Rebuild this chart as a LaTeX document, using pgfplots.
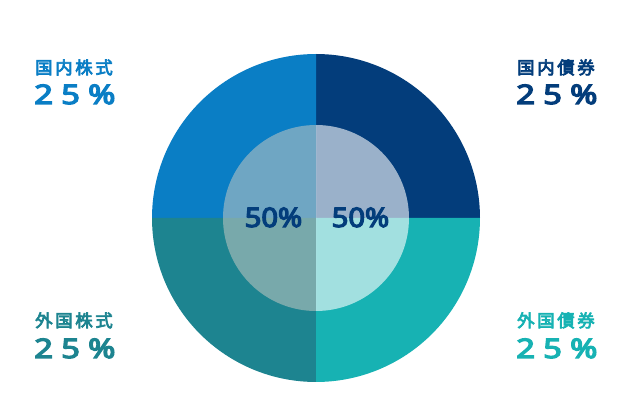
\documentclass[border=0pt]{standalone}
\usepackage{fontspec}
\usepackage{pgfplots}
\pgfplotsset{compat=1.18}
\setmainfont{Noto Sans CJK JP}
\newfontfamily\jp[LetterSpace=15,FakeBold=4]{Noto Sans CJK JP}
\newfontfamily\num[LetterSpace=25,FakeBold=4.5]{Noto Sans}
\newfontfamily\numc[FakeBold=4.5]{Noto Sans}
\newcommand\pct[1]{\scalebox{1.22}[1]{\num\fontsize{27}{29}\selectfont #1}}
\newcommand\pctc[1]{\scalebox{1.08}[1]{\numc\fontsize{27}{29}\selectfont #1}}
\definecolor{cNavy}{HTML}{033D7B}
\definecolor{cBlue}{HTML}{0A7EC5}
\definecolor{cTealD}{HTML}{1D8490}
\definecolor{cTeal}{HTML}{17B2B3}
\definecolor{ovL}{RGB}{202,202,195}
\begin{document}
\begin{tikzpicture}
\useasboundingbox (0,0) rectangle (630bp,405bp);
\begin{axis}[x=1bp,y=1bp,xmin=0,xmax=630,ymin=0,ymax=405,
  hide axis,clip=false,anchor=south west,at={(0,0)}]
% outer ring: shares (percent), counter-clockwise from 3 o'clock
\xdef\cum{0}
\foreach \v/\c in {25/cNavy,25/cBlue,25/cTealD,25/cTeal}{
  \pgfmathsetmacro\a{\cum*3.6}
  \pgfmathsetmacro\b{(\cum+\v)*3.6}
  \edef\temp{\noexpand\fill[\c] (axis cs:316,187) -- ++(\a:164bp) arc[start angle=\a,end angle=\b,radius=164bp] -- cycle;}
  \temp
  \pgfmathsetmacro\n{\cum+\v}\xdef\cum{\n}
}
% inner: 50% stocks (left) / 50% bonds (right)
\xdef\cum{25}
\foreach \v/\c/\o in {50/ovL/0.53,50/white/0.6}{
  \pgfmathsetmacro\a{\cum*3.6}
  \pgfmathsetmacro\b{(\cum+\v)*3.6}
  \edef\temp{\noexpand\fill[\c,opacity=\o] (axis cs:316,187) -- ++(\a:93bp) arc[start angle=\a,end angle=\b,radius=93bp] -- cycle;}
  \temp
  \pgfmathsetmacro\n{\cum+\v}\xdef\cum{\n}
}
% labels
\node[anchor=base west,inner sep=0,text=cBlue] at (axis cs:35,331) {\jp\fontsize{17.5}{20}\selectfont 国内株式};
\node[anchor=base west,inner sep=0,text=cBlue] at (axis cs:34,301) {\pct{25\%}};
\node[anchor=base west,inner sep=0,text=cNavy] at (axis cs:517,331) {\jp\fontsize{17.5}{20}\selectfont 国内債券};
\node[anchor=base west,inner sep=0,text=cNavy] at (axis cs:516,301) {\pct{25\%}};
\node[anchor=base west,inner sep=0,text=cTealD] at (axis cs:35,78) {\jp\fontsize{17.5}{20}\selectfont 外国株式};
\node[anchor=base west,inner sep=0,text=cTealD] at (axis cs:34,47) {\pct{25\%}};
\node[anchor=base west,inner sep=0,text=cTeal] at (axis cs:517,78) {\jp\fontsize{17.5}{20}\selectfont 外国債券};
\node[anchor=base west,inner sep=0,text=cTeal] at (axis cs:516,47) {\pct{25\%}};
\node[anchor=base,inner sep=0,text=cNavy] at (axis cs:273.5,178) {\pctc{50\%}};
\node[anchor=base,inner sep=0,text=cNavy] at (axis cs:360.5,178) {\pctc{50\%}};
\end{axis}
\end{tikzpicture}
\end{document}
